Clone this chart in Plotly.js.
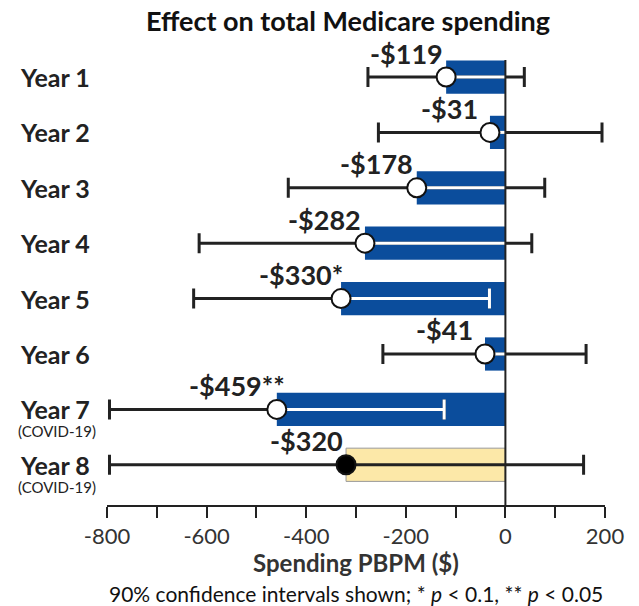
<!DOCTYPE html>
<html>
<head>
<meta charset="utf-8">
<script src="https://cdn.plot.ly/plotly-3.0.1.min.js"></script>
<style>html,body{margin:0;padding:0;background:#fff;}#chart{width:639px;height:606px;}</style>
</head>
<body>
<div id="chart"></div>
<script>
// ---- data ----
const years = ["Year 1", "Year 2", "Year 3", "Year 4", "Year 5", "Year 6", "Year 7", "Year 8"];
const covidNote = ["", "", "", "", "", "", "(COVID-19)", "(COVID-19)"];
const estimates = [-119, -31, -178, -282, -330, -41, -459, -320];
const ciLow = [-276, -255, -436, -615, -626, -246, -795, -795];
const ciHigh = [38, 194, 79, 53, -32, 162, -123, 157];
const valueLabels = ["-$119", "-$31", "-$178", "-$282", "-$330*", "-$41", "-$459**", "-$320"];
const preliminary = [false, false, false, false, false, false, false, true];
const tickValues = [-800, -600, -400, -200, 0, 200];
const tickLabels = ["-800", "-600", "-400", "-200", "0", "200"];

// ---- styling ----
const FONT = "Lato, 'Open Sans', sans-serif";
const BLUE = "#0b4d9c";
const YELLOW = "#fce8a8";
const INK = "#222222";

const idx = years.map((_, i) => i);

const barTrace = {
  type: "bar", orientation: "h",
  x: estimates, y: idx, width: 0.6,
  marker: {
    color: preliminary.map(p => p ? YELLOW : BLUE),
    line: { color: preliminary.map(p => p ? "#9a9a9a" : BLUE), width: preliminary.map(p => p ? 1 : 0) }
  },
  hoverinfo: "skip", showlegend: false
};

const blackErr = {
  type: "scatter", mode: "markers",
  x: estimates, y: idx,
  marker: { size: 1, color: "rgba(0,0,0,0)" },
  error_x: {
    type: "data", symmetric: false,
    array: ciHigh.map((h, i) => h - estimates[i]),
    arrayminus: ciLow.map((l, i) => estimates[i] - l),
    color: INK, thickness: 3, width: 10
  },
  cliponaxis: false, hoverinfo: "skip", showlegend: false
};

// white segment inside the blue bar (from estimate to the bar end or the upper bound)
function whiteTrace(withCap) {
  const xs = [], ys = [], plus = [];
  estimates.forEach((v, i) => {
    if (preliminary[i]) return;
    const capInside = ciHigh[i] < 0;
    if (capInside !== withCap) return;
    xs.push(v); ys.push(i);
    plus.push(Math.min(ciHigh[i], 0) - v);
  });
  return {
    type: "scatter", mode: "markers", x: xs, y: ys,
    marker: { size: 1, color: "rgba(0,0,0,0)" },
    error_x: {
      type: "data", symmetric: false, array: plus, arrayminus: plus.map(() => 0),
      color: "#ffffff", thickness: 3, width: withCap ? 10 : 0
    },
    cliponaxis: false, hoverinfo: "skip", showlegend: false
  };
}

const pointTrace = {
  type: "scatter", mode: "markers",
  x: estimates, y: idx,
  marker: {
    size: 19,
    color: preliminary.map(p => p ? "#000000" : "#ffffff"),
    line: { color: "#111111", width: 2 }
  },
  cliponaxis: false, hoverinfo: "skip", showlegend: false
};

const annotations = [];
years.forEach((y, i) => {
  annotations.push({
    xref: "paper", yref: "y", x: -0.03, y: i, xanchor: "right", yanchor: "middle",
    text: "<b>" + y + "</b>", showarrow: false,
    font: { family: FONT, size: 25, color: INK }
  });
  if (covidNote[i]) {
    annotations.push({
      xref: "paper", yref: "y", x: -0.1, y: i, xanchor: "center", yanchor: "middle", yshift: -22,
      text: covidNote[i], showarrow: false,
      font: { family: FONT, size: 15, color: INK }
    });
  }
  annotations.push({
    xref: "x", yref: "y", x: estimates[i], y: i, xanchor: "center", yanchor: "middle",
    xshift: -40, yshift: 24,
    text: "<b>" + valueLabels[i] + "</b>", showarrow: false,
    font: { family: FONT, size: 27, color: INK }
  });
});
annotations.push({
  xref: "paper", yref: "paper", x: 0.5, y: -0.1303, xanchor: "center", yanchor: "middle",
  text: "<b>Spending PBPM ($)</b>", showarrow: false,
  font: { family: FONT, size: 24, color: "#333333" }
});
annotations.push({
  xref: "paper", yref: "paper", x: 0.5, y: -0.1978, xanchor: "center", yanchor: "middle",
  text: "90% confidence intervals shown; * <i>p</i> &lt; 0.1, ** <i>p</i> &lt; 0.05", showarrow: false,
  font: { family: FONT, size: 21, color: "#111111" }
});

const layout = {
  width: 639, height: 606,
  margin: { l: 107, r: 34, t: 60, b: 101, pad: 0 },
  paper_bgcolor: "#ffffff", plot_bgcolor: "#ffffff",
  title: {
    text: "<b>Effect on total Medicare spending</b>",
    x: 348 / 639, xanchor: "center", y: 1 - 22 / 606, yanchor: "middle",
    font: { family: FONT, size: 27, color: "#111111" }
  },
  xaxis: {
    range: [-800, 200], tickmode: "array", tickvals: tickValues, ticktext: tickLabels,
    showgrid: false, zeroline: false,
    showline: true, linecolor: INK, linewidth: 2,
    ticks: "outside", ticklen: 11, tickwidth: 2, tickcolor: INK,
    minor: { dtick: 100, tick0: -800, ticks: "outside", ticklen: 11, tickwidth: 2, tickcolor: INK, showgrid: false },
    tickfont: { family: FONT, size: 22, color: "#333333" },
    fixedrange: true
  },
  yaxis: {
    range: [7.726, -0.307], showticklabels: false, showgrid: false, zeroline: false,
    showline: false, ticks: "", fixedrange: true
  },
  shapes: [{
    type: "line", xref: "x", yref: "paper", x0: 0, x1: 0, y0: 0, y1: 1,
    line: { color: INK, width: 2 }, layer: "above"
  }],
  annotations: annotations,
  showlegend: false, bargap: 0
};

Plotly.newPlot("chart", [barTrace, blackErr, whiteTrace(false), whiteTrace(true), pointTrace], layout,
  { displayModeBar: false, staticPlot: true });
</script>
</body>
</html>
